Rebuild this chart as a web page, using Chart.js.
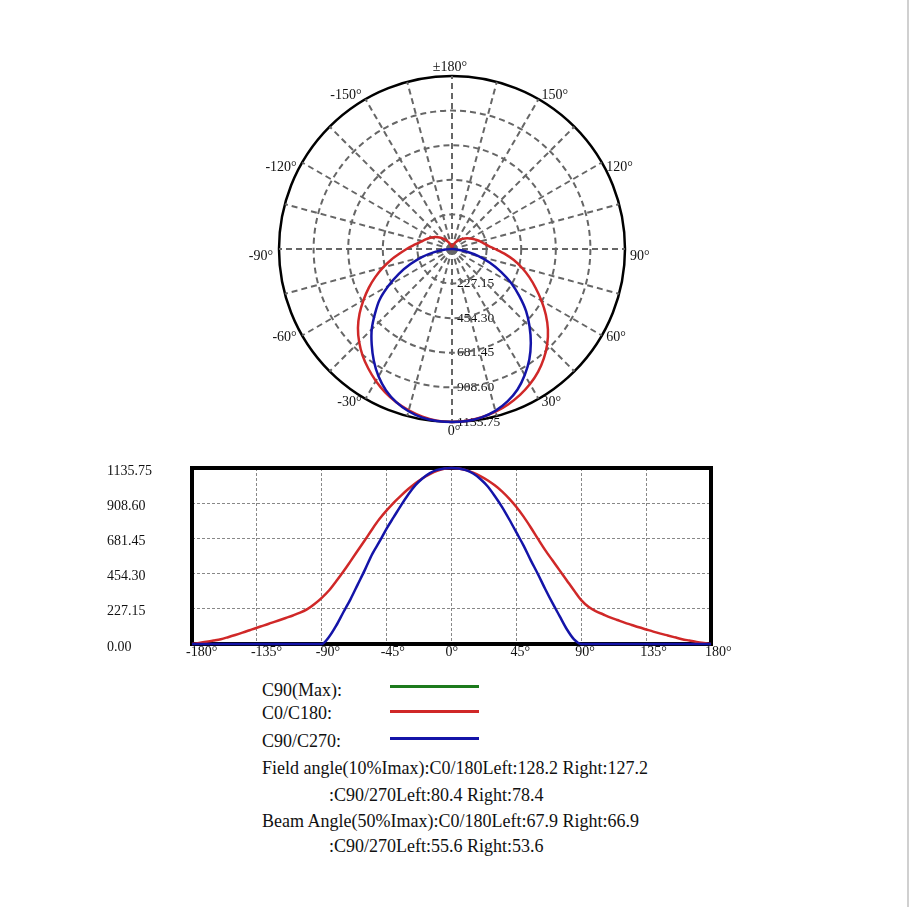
<!DOCTYPE html>
<html>
<head>
<meta charset="utf-8">
<title>Luminous intensity distribution</title>
<script src="https://cdn.jsdelivr.net/npm/chart.js@4.4.1/dist/chart.umd.min.js"></script>
<style>
  html, body { margin: 0; padding: 0; background: #fff; }
  body { width: 909px; height: 907px; position: relative; overflow: hidden;
         font-family: "Liberation Serif", "Times New Roman", serif; color: #111; }
  #polarBox { position: absolute; left: 249px; top: 46px; width: 406px; height: 406px; }
  #lineBox { position: absolute; left: 105px; top: 458px; width: 633px; height: 206px; }
  .txt { position: absolute; font-size: 18px; line-height: 22px; white-space: nowrap; }
  .swatch { position: absolute; left: 390px; width: 89px; height: 3px; }
  #edge { position: absolute; left: 907px; top: 0; width: 2px; height: 907px; background: #d0d0d0; }
</style>
</head>
<body>
<div id="polarBox"><canvas id="polar" width="406" height="406"></canvas></div>
<div id="lineBox"><canvas id="curve" width="633" height="206"></canvas></div>

<div class="txt" style="left:262px;top:679px">C90(Max):</div>
<div class="swatch" style="top:685px;background:#1c7a1c"></div>
<div class="txt" style="left:262px;top:702px">C0/C180:</div>
<div class="swatch" style="top:710px;background:#d02828"></div>
<div class="txt" style="left:262px;top:730px">C90/C270:</div>
<div class="swatch" style="top:737px;background:#1414a8"></div>
<div class="txt" style="left:262px;top:757px">Field angle(10%Imax):C0/180Left:128.2 Right:127.2</div>
<div class="txt" style="left:329px;top:784px">:C90/270Left:80.4 Right:78.4</div>
<div class="txt" style="left:262px;top:810px">Beam Angle(50%Imax):C0/180Left:67.9 Right:66.9</div>
<div class="txt" style="left:329px;top:835px">:C90/270Left:55.6 Right:53.6</div>
<div id="edge"></div>

<script>
// gamma angles, 5 degree steps
const angles = [-180, -175, -170, -165, -160, -155, -150, -145, -140, -135, -130, -125,
  -120, -115, -110, -105, -100, -95, -90, -85, -80, -75, -70, -65, -60, -55, -50, -45,
  -40, -35, -30, -25, -20, -15, -10, -5, 0, 5, 10, 15, 20, 25, 30, 35, 40, 45, 50, 55,
  60, 65, 70, 75, 80, 85, 90, 95, 100, 105, 110, 115, 120, 125, 130, 135, 140, 145,
  150, 155, 160, 165, 170, 175, 180];

// C0/C180 intensity (cd)
const c0c180 = [0, 7, 14, 22, 31, 44, 58, 73, 89, 105, 120, 136,
  152, 168, 184, 202, 225, 258, 298, 345, 405, 468, 535, 603, 671, 741, 806, 862,
  913, 958, 1000, 1038, 1070, 1096, 1117, 1131, 1135.75, 1132, 1122, 1106, 1084, 1057, 1024, 985, 938, 884, 822, 752,
  678, 606, 540, 475, 410, 345, 283, 240, 212, 192, 172, 155, 138, 123, 108, 94, 80, 67,
  55, 43, 31, 22, 13, 6, 0];

// C90/C270 intensity (cd)
const c90c270 = [0, 0, 0, 0, 0, 0, 0, 0, 0, 0, 0, 0,
  0, 0, 0, 0, 0, 0, 0, 45, 118, 205, 290, 385, 480, 580, 660, 745,
  820, 895, 965, 1025, 1070, 1103, 1124, 1133, 1135.75, 1133, 1122, 1100, 1065, 1018, 955, 885, 805, 720, 635, 540,
  450, 355, 265, 180, 95, 30, 0, 0, 0, 0, 0, 0, 0, 0, 0, 0, 0, 0,
  0, 0, 0, 0, 0, 0, 0];

const intensityTicks = [0, 227.15, 454.30, 681.45, 908.60, 1135.75];
const angleTicks = [-180, -135, -90, -45, 0, 45, 90, 135, 180];
const polarMarks = [180, 150, 120, 90, 60, 30, 0, -30, -60, -90, -120, -150];

const IMAX = 1135.75;
const RED = '#d02828';
const BLUE = '#1414a8';
const GRID = '#666';
const FONT = '"Liberation Serif", "Times New Roman", serif';

// polar order: 180 at the top, going clockwise 175, 170 ... -175
const polarAngles = angles.slice(1).reverse();
const polarValues = arr => polarAngles.map(a => arr[angles.indexOf(a)]);

// degree labels and ring values, drawn under the grid like the original
const polarLabels = {
  id: 'polarLabels',
  beforeDraw(chart) {
    const s = chart.scales.r;
    const ctx = chart.ctx;
    const dy = { '180': -5, '0': 5, '90': 7, '-90': 7, '120': 7, '-120': 7 };
    ctx.save();
    ctx.fillStyle = '#111';
    ctx.font = '14px ' + FONT;
    ctx.textBaseline = 'middle';
    polarMarks.forEach(a => {
      const p = s.getPointPosition(polarAngles.indexOf(a), s.drawingArea + 4);
      const y = p.y + (dy[a] || 0);
      if (a === 180) {
        ctx.textAlign = 'center';
        ctx.fillText('±180°', p.x - 2, y);
      } else if (a === 0) {
        ctx.textAlign = 'center';
        ctx.fillText('0°', p.x + 2, y);
      } else if (a > 0) {
        ctx.textAlign = 'left';
        ctx.fillText(a + '°', p.x + 1, y);
      } else {
        ctx.textAlign = 'right';
        ctx.fillText(a + '°', p.x - 2, y);
      }
    });
    const i0 = polarAngles.indexOf(0);
    ctx.font = '13.5px ' + FONT;
    ctx.textAlign = 'left';
    intensityTicks.slice(1).forEach(v => {
      const p = s.getPointPosition(i0, s.getDistanceFromCenterForValue(v));
      ctx.fillText(v.toFixed(2), p.x + 5, p.y);
    });
    ctx.restore();
  }
};

new Chart(document.getElementById('polar'), {
  type: 'radar',
  data: {
    labels: polarAngles.map(a => a + '°'),
    datasets: [{
      label: 'C0/C180',
      data: polarValues(c0c180),
      borderColor: RED,
      borderWidth: 2.5,
      pointRadius: 0,
      fill: false,
      tension: 0.2,
      order: 2
    }, {
      label: 'C90/C270',
      data: polarValues(c90c270),
      borderColor: BLUE,
      borderWidth: 2.5,
      pointRadius: 0,
      fill: false,
      tension: 0.2,
      order: 1
    }]
  },
  options: {
    responsive: false,
    animation: false,
    layout: { padding: 30 },
    plugins: { legend: { display: false }, tooltip: { enabled: false } },
    scales: {
      r: {
        min: 0,
        max: IMAX,
        startAngle: 0,
        afterBuildTicks: s => { s.ticks = intensityTicks.map(v => ({ value: v })); },
        ticks: { display: false },
        pointLabels: { display: false },
        grid: {
          circular: true,
          color: c => (c.tick && c.tick.value >= IMAX) ? '#000' : GRID,
          lineWidth: c => (c.tick && c.tick.value >= IMAX) ? 2.5 : 2
        },
        border: {
          dash: c => (c.tick && c.tick.value >= IMAX) ? [] : [6, 4]
        },
        angleLines: {
          color: c => c.index % 3 === 0 ? GRID : 'rgba(0,0,0,0)',
          lineWidth: 2,
          borderDash: [6, 4]
        }
      }
    }
  },
  plugins: [polarLabels]
});

// black box round the plot area, under the curves
const frame = {
  id: 'frame',
  beforeDatasetsDraw(chart) {
    const a = chart.chartArea;
    const ctx = chart.ctx;
    ctx.save();
    ctx.strokeStyle = '#000';
    ctx.lineWidth = 4;
    ctx.strokeRect(a.left, a.top, a.right - a.left, a.bottom - a.top);
    ctx.restore();
  }
};

new Chart(document.getElementById('curve'), {
  type: 'line',
  data: {
    datasets: [{
      label: 'C0/C180',
      data: angles.map((a, i) => ({ x: a, y: c0c180[i] })),
      borderColor: RED,
      borderWidth: 2.5,
      pointRadius: 0,
      cubicInterpolationMode: 'monotone',
      clip: false,
      order: 2
    }, {
      label: 'C90/C270',
      data: angles.map((a, i) => ({ x: a, y: c90c270[i] })),
      borderColor: BLUE,
      borderWidth: 2.5,
      pointRadius: 0,
      cubicInterpolationMode: 'monotone',
      clip: false,
      order: 1
    }]
  },
  options: {
    responsive: false,
    animation: false,
    layout: { padding: { left: 2, right: 27, top: 10, bottom: 0 } },
    plugins: { legend: { display: false }, tooltip: { enabled: false } },
    scales: {
      x: {
        type: 'linear',
        min: -180,
        max: 180,
        afterBuildTicks: s => { s.ticks = angleTicks.map(v => ({ value: v })); },
        afterFit: s => { s.height = 20; },
        ticks: {
          callback: v => v + '°',
          align: 'start',
          labelOffset: -6,
          padding: 0,
          maxRotation: 0,
          autoSkip: false,
          color: '#111',
          font: { family: FONT, size: 14 }
        },
        grid: { color: '#888', lineWidth: 1, drawTicks: false },
        border: { display: false, dash: [3, 2] }
      },
      y: {
        min: 0,
        max: IMAX,
        afterBuildTicks: s => { s.ticks = intensityTicks.map(v => ({ value: v })); },
        afterFit: s => { s.width = 85; },
        ticks: {
          callback: v => v.toFixed(2),
          crossAlign: 'far',
          labelOffset: 3,
          padding: 0,
          color: '#111',
          font: { family: FONT, size: 14 }
        },
        grid: { color: '#888', lineWidth: 1, drawTicks: false },
        border: { display: false, dash: [3, 2] }
      }
    }
  },
  plugins: [frame]
});
</script>
</body>
</html>
